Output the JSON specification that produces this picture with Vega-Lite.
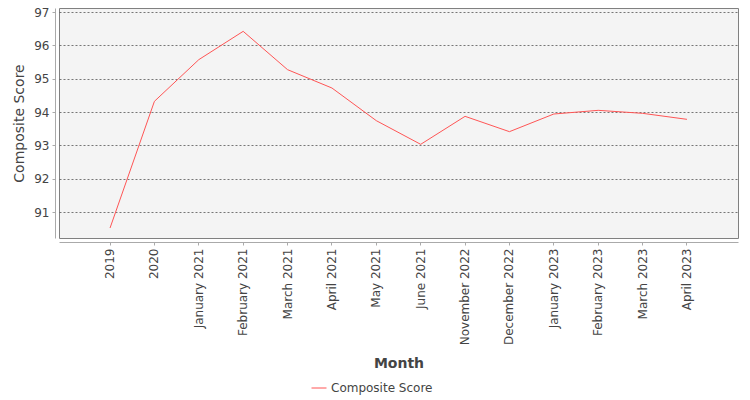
{
  "$schema": "https://vega.github.io/schema/vega-lite/v6.json",
  "autosize": {"type": "none"},
  "padding": {"left": 59, "top": 8, "right": 12, "bottom": 162},
  "width": 679,
  "height": 230,
  "background": "white",
  "data": {
    "values": [
      {"Month": "2019", "Score": 90.52, "series": "Composite Score"},
      {"Month": "2020", "Score": 94.32, "series": "Composite Score"},
      {"Month": "January 2021", "Score": 95.57, "series": "Composite Score"},
      {"Month": "February 2021", "Score": 96.42, "series": "Composite Score"},
      {"Month": "March 2021", "Score": 95.27, "series": "Composite Score"},
      {"Month": "April 2021", "Score": 94.72, "series": "Composite Score"},
      {"Month": "May 2021", "Score": 93.74, "series": "Composite Score"},
      {"Month": "June 2021", "Score": 93.03, "series": "Composite Score"},
      {"Month": "November 2022", "Score": 93.87, "series": "Composite Score"},
      {"Month": "December 2022", "Score": 93.41, "series": "Composite Score"},
      {"Month": "January 2023", "Score": 93.94, "series": "Composite Score"},
      {"Month": "February 2023", "Score": 94.05, "series": "Composite Score"},
      {"Month": "March 2023", "Score": 93.96, "series": "Composite Score"},
      {"Month": "April 2023", "Score": 93.78, "series": "Composite Score"}
    ]
  },
  "mark": {"type": "line", "strokeWidth": 1, "clip": true},
  "encoding": {
    "x": {
      "field": "Month",
      "type": "nominal",
      "sort": null,
      "scale": {"type": "band", "paddingInner": 0, "paddingOuter": 0.65},
      "axis": {
        "title": "Month",
        "titleFontWeight": "bold",
        "labelAngle": -90,
        "labelAlign": "right",
        "labelBaseline": "middle",
        "offset": 4,
        "tickSize": 3,
        "labelPadding": 3,
        "titlePadding": 12,
        "grid": false
      }
    },
    "y": {
      "field": "Score",
      "type": "quantitative",
      "scale": {"domain": [90.22, 97.12], "nice": false, "zero": false},
      "axis": {
        "title": "Composite Score",
        "titleFontWeight": "normal",
        "values": [91, 92, 93, 94, 95, 96, 97],
        "offset": 4,
        "tickSize": 3,
        "labelPadding": 3,
        "titlePadding": 7,
        "grid": true,
        "gridColor": "#555555",
        "gridDash": [2, 2],
        "gridWidth": 0.8
      }
    },
    "color": {
      "field": "series",
      "type": "nominal",
      "scale": {"range": ["#ff5555"]},
      "legend": {
        "title": null,
        "orient": "none",
        "legendX": 252,
        "legendY": 372,
        "symbolType": "stroke",
        "symbolSize": 225,
        "symbolStrokeWidth": 1,
        "labelFontSize": 12,
        "labelFont": "DejaVu Sans",
        "labelColor": "#444444"
      }
    }
  },
  "config": {
    "view": {"stroke": "#808080", "fill": "#f4f4f4"},
    "axis": {
      "labelFont": "DejaVu Sans",
      "labelFontSize": 12,
      "labelColor": "#444444",
      "titleFont": "DejaVu Sans",
      "titleFontSize": 14,
      "titleColor": "#444444",
      "domainColor": "#aaaaaa",
      "tickColor": "#aaaaaa"
    }
  }
}
